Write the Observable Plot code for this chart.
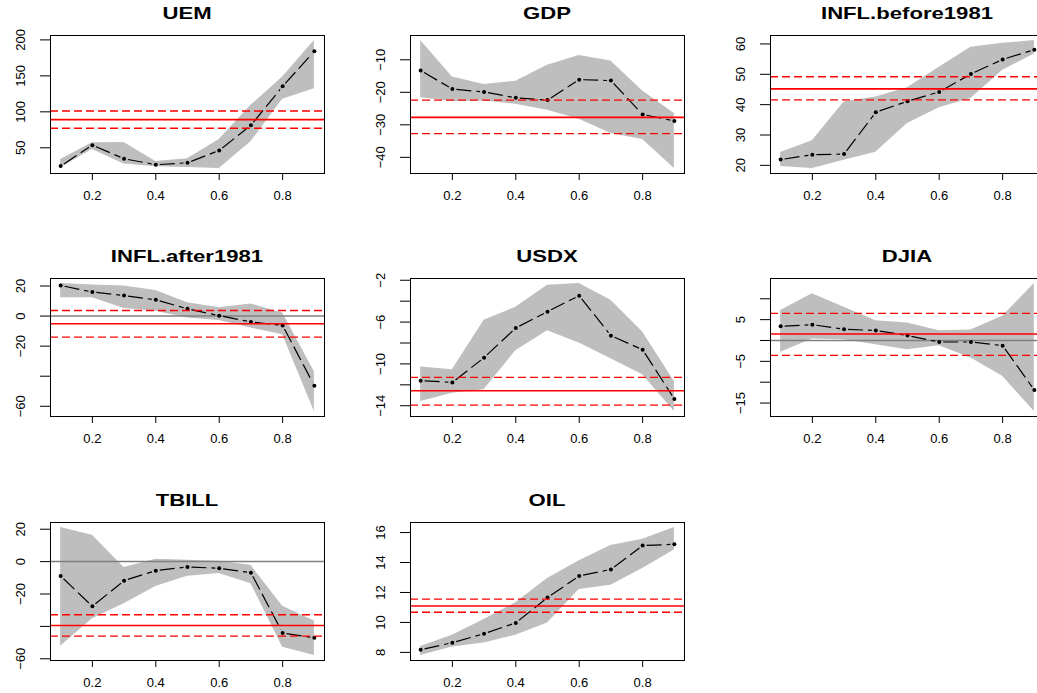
<!DOCTYPE html>
<html><head><meta charset="utf-8">
<script src="https://cdn.jsdelivr.net/npm/d3@7"></script>
<script src="https://cdn.jsdelivr.net/npm/@observablehq/plot@0.6"></script>
<style>
html,body{margin:0;padding:0;background:#fff;overflow:hidden;}
#wrap{position:relative;width:1037px;height:693px;overflow:hidden;background:#fff;}
.panel{position:absolute;}
.title{position:absolute;width:300px;text-align:center;font-family:"Liberation Sans",Arial,sans-serif;font-weight:bold;font-size:17px;line-height:17px;transform:scaleX(1.3);transform-origin:center;white-space:nowrap;color:#000;}
</style></head><body><div id="wrap"></div>
<script>
// quantiles
const taus = [0.1, 0.2, 0.3, 0.4, 0.5, 0.6, 0.7, 0.8, 0.9];
const xTicks = [0.2, 0.4, 0.6, 0.8];
const names = ["UEM", "GDP", "INFL.before1981", "INFL.after1981", "USDX", "DJIA", "TBILL", "OIL"];

// quantile regression estimates, lower and upper confidence bounds; OLS = [coef, lower, upper]
const UEM_est = [24.6, 53.7, 34.8, 26.5, 29.2, 46.3, 81.4, 135.4, 184.3];
const UEM_lo  = [22.3, 47.7, 27.4, 23.7, 22.8, 21.4, 58.3, 117.4, 132];
const UEM_hi  = [33.9, 57, 57.4, 31, 34.8, 61.6, 109, 148.3, 199];
const UEM_ols = [89.2, 77.2, 101.2];
const UEM_ticks = [50, 100, 150, 200];
const UEM_labels = [50, 100, 150, 200];

const GDP_est = [-13.3, -19.0, -19.9, -21.7, -22.4, -16.1, -16.4, -26.8, -28.8];
const GDP_lo  = [-21.7, -22.8, -22.7, -23.7, -25.5, -28.3, -32.7, -34.5, -43.4];
const GDP_hi  = [-4.1, -15.3, -17.6, -16.6, -11.7, -8.7, -10.4, -19.6, -26.5];
const GDP_ols = [-27.7, -32.7, -22.4];
const GDP_ticks = [-40, -30, -20, -10];
const GDP_labels = [-40, -30, -20, -10];

const INFLB_est = [21.9, 23.5, 23.7, 37.5, 41.1, 44.2, 50.1, 54.9, 58.1];
const INFLB_lo  = [19.6, 19.0, 21.7, 24.3, 33.8, 39.0, 42.0, 51.3, 56.7];
const INFLB_hi  = [24.2, 28.1, 40.9, 42.5, 45.6, 52.3, 58.9, 60.2, 61.1];
const INFLB_ols = [45.2, 41.6, 49.2];
const INFLB_ticks = [20, 30, 40, 50, 60];
const INFLB_labels = [20, 30, 40, 50, 60];

const INFLA_est = [20.4, 16.0, 13.7, 10.8, 4.8, 0.3, -3.9, -6.2, -46.4];
const INFLA_lo  = [12.2, 12.2, 5.0, 3.2, -1.3, -3.0, -8.0, -12.4, -63.4];
const INFLA_hi  = [21.6, 20.7, 20.0, 17.1, 8.8, 5.5, 8.1, 2.1, -37.0];
const INFLA_ols = [-5.1, -14.0, 3.7];
const INFLA_ticks = [-60, -40, -20, 0, 20];
const INFLA_labels = [-60, -20, 0, 20];

const USDX_est = [-11.6, -11.77, -9.4, -6.56, -5.0, -3.47, -7.3, -8.64, -13.36];
const USDX_lo  = [-13.6, -12.8, -12.47, -8.73, -6.82, -8.0, -9.5, -11.03, -14.54];
const USDX_hi  = [-10.3, -10.55, -5.83, -4.59, -2.48, -2.32, -3.92, -6.95, -11.67];
const USDX_ols = [-12.56, -13.94, -11.29];
const USDX_ticks = [-14, -12, -10, -8, -6, -4, -2];
const USDX_labels = [-14, -10, -6, -2];

const DJIA_est = [3.4, 3.8, 2.7, 2.4, 1.2, -0.36, -0.36, -1.24, -11.9];
const DJIA_lo  = [-2.84, 0.36, 0.2, -1.0, -2.2, -1.24, -4.2, -8.6, -17.0];
const DJIA_hi  = [7.2, 11.2, 8.0, 4.76, 4.2, 2.36, 2.5, 5.8, 13.64];
const DJIA_ols = [1.56, -3.56, 6.52];
const DJIA_ticks = [-15, -10, -5, 0, 5, 10];
const DJIA_labels = [-15, -5, 5];

const TBILL_est = [-8.9, -27.6, -11.75, -5.57, -3.3, -4.1, -6.8, -44.1, -47.0];
const TBILL_lo  = [-52.2, -35.3, -26.0, -15.3, -9.1, -7.4, -13.6, -52.8, -57.9];
const TBILL_hi  = [21.0, 16.3, -3.7, 1.44, 0.8, 0.2, -2.3, -27.6, -36.7];
const TBILL_ols = [-39.4, -46.0, -32.8];
const TBILL_ticks = [-60, -40, -20, 0, 20];
const TBILL_labels = [-60, -20, 0, 20];

const OIL_est = [8.18, 8.65, 9.25, 9.97, 11.66, 13.1, 13.54, 15.13, 15.22];
const OIL_lo  = [7.8, 8.36, 8.63, 9.14, 9.97, 12.2, 12.49, 13.6, 14.84];
const OIL_hi  = [8.4, 9.14, 10.19, 11.31, 12.94, 14.12, 15.13, 15.55, 16.33];
const OIL_ols = [11.1, 10.68, 11.55];
const OIL_ticks = [8, 10, 12, 14, 16];
const OIL_labels = [8, 10, 12, 14, 16];

const panels = [
  {name: names[0], est: UEM_est, lo: UEM_lo, hi: UEM_hi, ols: UEM_ols, ticks: UEM_ticks, labels: UEM_labels},
  {name: names[1], est: GDP_est, lo: GDP_lo, hi: GDP_hi, ols: GDP_ols, ticks: GDP_ticks, labels: GDP_labels},
  {name: names[2], est: INFLB_est, lo: INFLB_lo, hi: INFLB_hi, ols: INFLB_ols, ticks: INFLB_ticks, labels: INFLB_labels},
  {name: names[3], est: INFLA_est, lo: INFLA_lo, hi: INFLA_hi, ols: INFLA_ols, ticks: INFLA_ticks, labels: INFLA_labels},
  {name: names[4], est: USDX_est, lo: USDX_lo, hi: USDX_hi, ols: USDX_ols, ticks: USDX_ticks, labels: USDX_labels},
  {name: names[5], est: DJIA_est, lo: DJIA_lo, hi: DJIA_hi, ols: DJIA_ols, ticks: DJIA_ticks, labels: DJIA_labels},
  {name: names[6], est: TBILL_est, lo: TBILL_lo, hi: TBILL_hi, ols: TBILL_ols, ticks: TBILL_ticks, labels: TBILL_labels},
  {name: names[7], est: OIL_est, lo: OIL_lo, hi: OIL_hi, ols: OIL_ols, ticks: OIL_ticks, labels: OIL_labels}
];

const colLeft = [0, 360, 720];
const rowTop = [0, 243.3, 487.3];
const W = 360, H = 243, ML = 50, MR = 36, MT = 35, MB = 70;
const fmt = d => String(d).replace("-", "\u2212");

function makePanel(p) {
  const rows = taus.map((t, i) => ({tau: t, est: p.est[i], lo: p.lo[i], hi: p.hi[i]}));
  const segs = rows.slice(1).map((r, i) => ({x1: rows[i].tau, y1: rows[i].est, x2: r.tau, y2: r.est}));
  const ymin = d3.min([...p.lo, ...p.est]), ymax = d3.max([...p.hi, ...p.est]);
  const ypad = (ymax - ymin) * 0.04;
  const ydom = [ymin - ypad, ymax + ypad];
  const xpad = (d3.max(taus) - d3.min(taus)) * 0.04;
  const marks = [Plot.areaY(rows, {x: "tau", y1: "lo", y2: "hi", fill: "#bebebe"})];
  if (ydom[0] < 0 && ydom[1] > 0) marks.push(Plot.ruleY([0], {stroke: "#808080", strokeWidth: 1.5}));
  marks.push(
    Plot.arrow(segs, {x1: "x1", y1: "y1", x2: "x2", y2: "y2", headLength: 0, insetStart: 4, insetEnd: 4,
      stroke: "black", strokeWidth: 1.2, strokeDasharray: "15,5", strokeLinecap: "butt"}),
    Plot.dot(rows, {x: "tau", y: "est", r: 2, fill: "black"}),
    Plot.ruleY([p.ols[0]], {stroke: "red", strokeWidth: 1.6}),
    Plot.ruleY([p.ols[1], p.ols[2]], {stroke: "red", strokeWidth: 1.3, strokeDasharray: "8,4"}),
    Plot.frame({stroke: "black"}),
    Plot.axisX({ticks: xTicks, tickSize: 7, tickPadding: 10, fontSize: 13, tickFormat: d => d.toFixed(1)}),
    Plot.axisY({ticks: p.ticks, tickSize: 10, tickPadding: 20, tickRotate: -90, textAnchor: "middle", lineAnchor: "middle",
      fontSize: 13, tickFormat: d => p.labels.includes(d) ? fmt(d) : ""})
  );
  return Plot.plot({
    width: W, height: H, marginLeft: ML, marginRight: MR, marginTop: MT, marginBottom: MB,
    x: {domain: [d3.min(taus) - xpad, d3.max(taus) + xpad]},
    y: {domain: ydom},
    style: {fontFamily: '"Liberation Sans", Arial, sans-serif', fontSize: "13px", background: "white", color: "black", overflow: "visible"},
    marks
  });
}

const wrap = document.getElementById("wrap");
panels.forEach((p, i) => {
  const c = i % 3, r = Math.floor(i / 3);
  const svg = makePanel(p);
  svg.classList.add("panel");
  svg.style.left = colLeft[c] + "px";
  svg.style.top = rowTop[r] + "px";
  wrap.appendChild(svg);
  const t = document.createElement("div");
  t.className = "title";
  t.textContent = p.name;
  t.style.left = (colLeft[c] + ML + (W - ML - MR) / 2 - 150) + "px";
  t.style.top = (rowTop[r] + MT - 16 - 14.4) + "px";
  wrap.appendChild(t);
});
</script></body></html>
